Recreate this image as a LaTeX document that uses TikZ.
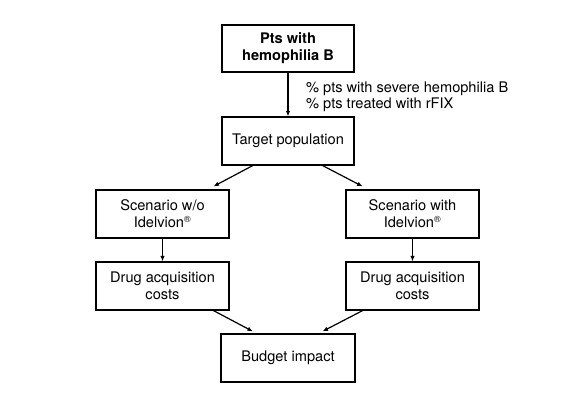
\documentclass[tikz,border=0pt]{standalone}
\usepackage{fontspec}
\setmainfont{TeX Gyre Heros}
\usetikzlibrary{arrows.meta,calc}
\begin{document}
\begin{tikzpicture}[x=1pt,y=1pt,
  box/.style={draw=black,line width=1.2pt,minimum width=133pt,minimum height=48pt,align=center,inner sep=2pt,
    font=\fontsize{14.6}{16.8}\selectfont},
  conn/.style={line width=1.2pt,-{Latex[length=5.5pt,width=4.5pt]}}]
\useasboundingbox (0,0) rectangle (576,-411);
\node[box,minimum height=47pt,minimum width=132pt] (top) at (288,-48.5) {\textbf{Pts with}\\\textbf{hemophilia B}};
\node[box,minimum width=132pt] (target) at (288,-141) {Target population};
\node[box] (sL) at (162.5,-214) {Scenario w/o\\Idelvion\textsuperscript{\fontsize{9}{9}\selectfont ®}};
\node[box] (sR) at (412.5,-214) {Scenario with\\Idelvion\textsuperscript{\fontsize{9}{9}\selectfont ®}};
\node[box] (dL) at (162.5,-286) {Drug acquisition\\costs};
\node[box] (dR) at (412.5,-286) {Drug acquisition\\costs};
\node[box,minimum width=134pt] (budget) at (288,-358) {Budget impact};
\node[anchor=west,inner sep=0pt,align=left,font=\fontsize{14.6}{15.3}\selectfont] (lab) at (306,-96.7)
  {\% pts with severe hemophilia B\\\% pts treated with rFIX};
\draw[conn] (top.south) -- (target.north);
\draw[conn] ($(target.south west)!0.235!(target.south east)$) -- ($(sL.north west)!0.88!(sL.north east)+(0,3)$);
\draw[conn] ($(target.south west)!0.76!(target.south east)$) -- ($(sR.north west)!0.128!(sR.north east)+(0,3)$);
\draw[conn] (sL.south) -- (dL.north);
\draw[conn] (sR.south) -- (dR.north);
\draw[conn] ($(dL.south west)!0.88!(dL.south east)$) -- ($(budget.north west)!0.24!(budget.north east)+(0,2)$);
\draw[conn] ($(dR.south west)!0.128!(dR.south east)$) -- ($(budget.north west)!0.755!(budget.north east)+(0,2)$);
\end{tikzpicture}
\end{document}
